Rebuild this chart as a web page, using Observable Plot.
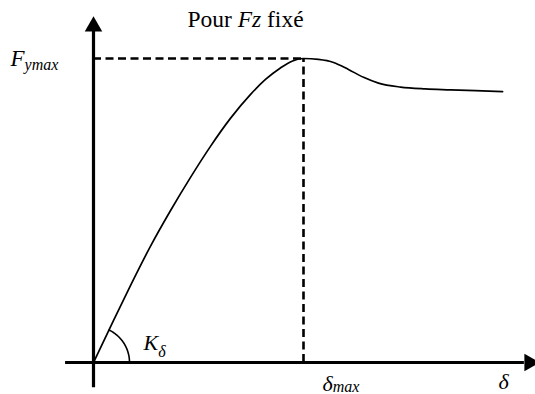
<!DOCTYPE html>
<html>
<head>
<meta charset="utf-8">
<script src="https://cdn.jsdelivr.net/npm/d3@7"></script>
<script src="https://cdn.jsdelivr.net/npm/@observablehq/plot@0.6"></script>
<style>
  html, body { margin: 0; padding: 0; background: #fff; }
  #wrap { position: relative; width: 535px; height: 394px; }
  #title {
    position: absolute; left: 0; top: 8.3px; width: 491px;
    text-align: center; font-family: "Liberation Serif"; font-size: 23.5px; line-height: 23.5px;
    color: #000; white-space: pre;
  }
  #title i { font-style: italic; }
</style>
</head>
<body>
<div id="wrap"><div id="chart"></div><div id="title"></div></div>
<script>
// Lateral force Fy against slip angle δ, at a fixed vertical load Fz.
// Values are normalised so that the peak sits at (1, 1).
const delta = [0, 0.095, 0.176, 0.271, 0.367, 0.462, 0.557, 0.652, 0.748, 0.819, 0.890, 0.948,
               1.000, 1.071, 1.143, 1.214, 1.286, 1.357, 1.462, 1.581, 1.700, 1.819, 1.948];
const Fy    = [0, 0.138, 0.253, 0.382, 0.500, 0.609, 0.711, 0.803, 0.882, 0.931, 0.969, 0.992,
               1.000, 0.997, 0.987, 0.964, 0.938, 0.919, 0.906, 0.900, 0.897, 0.894, 0.891];

// Text pieces
const titleText  = ["Pour ", "Fz", " fixé"];
const yMaxLabel  = ["F", "ymax"];
const slopeLabel = ["K", "δ"];
const xMaxLabel  = ["δ", "max"];
const xAxisLabel = ["δ"];

const curve = delta.map((d, i) => ({delta: d, Fy: Fy[i]}));
const peak = curve[d3.maxIndex(Fy)];

// Plot frame: origin and peak placed on the page
const xRange = [93, 303];
const yRange = [362, 58];
const pxX = (xRange[1] - xRange[0]) / peak.delta;
const pxY = (yRange[0] - yRange[1]) / peak.Fy;

// Axis extents (data units)
const xAxisFrom = -0.133, xAxisTo = 2.1;
const yAxisFrom = -0.05,  yAxisTo = 1.122;

// Arrowheads: filled triangles, tip offset from the symbol centre
const headR = 6.5;
const headTip = 2 * Math.sqrt(Math.PI * headR * headR / (3 * Math.sqrt(3)));

// Arc showing the initial slope K_δ
const slope0 = Math.atan2((Fy[1] - Fy[0]) * pxY, (delta[1] - delta[0]) * pxX);
const arcR = 36;
const arc = d3.range(0, 41).map(k => {
  const a = slope0 * k / 40;
  return {delta: arcR * Math.cos(a) / pxX, Fy: arcR * Math.sin(a) / pxY};
});

const serif = "Liberation Serif";
const dash = {stroke: "#000", strokeWidth: 2.6, strokeDasharray: "8,4.5"};
const label = {text: d => d, textAnchor: "start", lineAnchor: "bottom", fill: "#000", fontFamily: serif};

const svg = Plot.plot({
  width: 535,
  height: 394,
  margin: 0,
  style: {fontFamily: serif},
  x: {domain: [0, peak.delta], range: xRange, axis: null},
  y: {domain: [0, peak.Fy], range: yRange, axis: null},
  marks: [
    // dashed guides to the peak
    Plot.ruleY([peak], {y: "Fy", x1: 0, x2: "delta", ...dash}),
    Plot.ruleX([peak], {x: "delta", y1: 0, y2: "Fy", ...dash}),
    // axes
    Plot.ruleY([0], {x1: xAxisFrom, x2: xAxisTo, insetRight: headTip, stroke: "#000", strokeWidth: 3.2}),
    Plot.ruleX([0], {y1: yAxisFrom, y2: yAxisTo, insetTop: headTip, stroke: "#000", strokeWidth: 3.2}),
    Plot.dot([{x: xAxisTo, y: 0}], {x: "x", y: "y", dx: -headTip / 2, symbol: "triangle", r: headR, rotate: 90, fill: "#000", stroke: null}),
    Plot.dot([{x: 0, y: yAxisTo}], {x: "x", y: "y", dy: headTip / 2, symbol: "triangle", r: headR, fill: "#000", stroke: null}),
    // the characteristic curve
    Plot.line(curve, {x: "delta", y: "Fy", curve: "monotone-x", stroke: "#000", strokeWidth: 1.7}),
    // slope arc
    Plot.line(arc, {x: "delta", y: "Fy", curve: "linear", stroke: "#000", strokeWidth: 1.6}),
    // labels (runs are styled below)
    Plot.text([yMaxLabel.join("")], {...label, x: 0, y: peak.Fy, dx: -83, dy: 7, fontSize: 23}),
    Plot.text([slopeLabel.join("")], {...label, x: 0, y: 0, dx: 50, dy: -13, fontSize: 22}),
    Plot.text([xMaxLabel.join("")], {...label, x: peak.delta, y: 0, dx: 19, dy: 28, fontSize: 22}),
    Plot.text([xAxisLabel.join("")], {...label, x: xAxisTo, y: 0, dx: -36, dy: 26, fontSize: 22})
  ]
});
svg.setAttribute("font-family", serif);

// Mixed italic / subscript runs inside each label, in mark order
const texts = svg.querySelectorAll("text");
function setRuns(el, runs) {
  const t = d3.select(el);
  t.text(null).attr("font-family", serif);
  for (const r of runs) {
    const s = t.append("tspan").text(r.text)
      .attr("font-family", serif)
      .attr("font-style", r.italic ? "italic" : "normal");
    if (r.size) s.attr("font-size", r.size);
    if (r.dy) s.attr("dy", r.dy);
  }
}
setRuns(texts[0], [
  {text: yMaxLabel[0], italic: true},
  {text: yMaxLabel[1], italic: true, size: 16, dy: 4}
]);
setRuns(texts[1], [
  {text: slopeLabel[0], italic: true},
  {text: slopeLabel[1], italic: true, size: 16, dy: 7}
]);
setRuns(texts[2], [
  {text: xMaxLabel[0], italic: true},
  {text: xMaxLabel[1], italic: true, size: 16, dy: 1}
]);
setRuns(texts[3], [
  {text: xAxisLabel[0], italic: true}
]);

document.getElementById("chart").append(svg);

// Title line, with the load symbol in italics
const title = d3.select("#title");
title.append("span").text(titleText[0]);
title.append("i").text(titleText[1]);
title.append("span").text(titleText[2]);
</script>
</body>
</html>
